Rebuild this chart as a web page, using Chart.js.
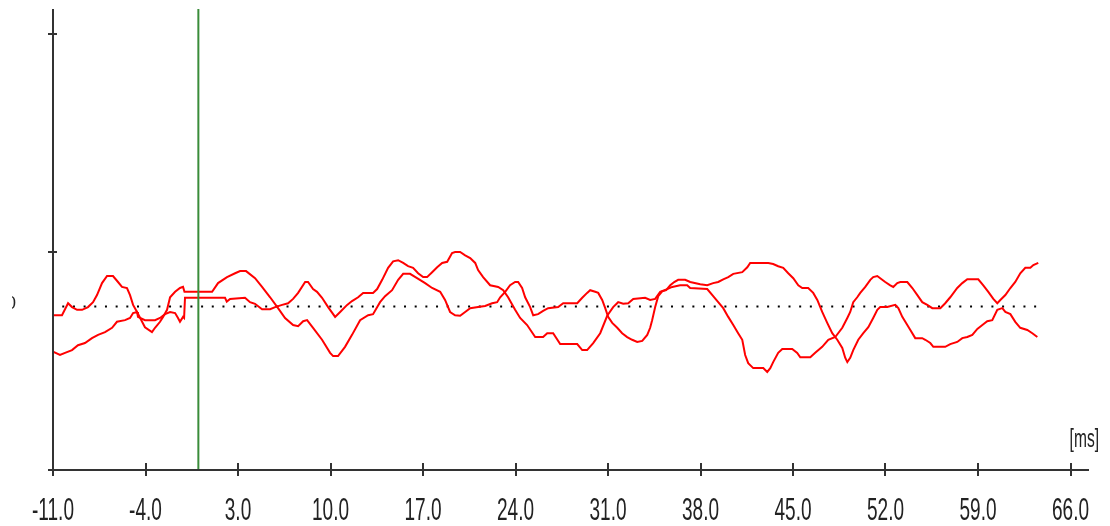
<!DOCTYPE html>
<html>
<head>
<meta charset="utf-8">
<script src="https://cdn.jsdelivr.net/npm/chart.js@4/dist/chart.umd.min.js"></script>
<style>
  html, body { margin: 0; padding: 0; background: #fff; }
  canvas { display: block; }
</style>
</head>
<body>
<canvas id="scope" width="1110" height="526"></canvas>
<script>
// Trace A: time (ms) and amplitude
const timeA = [-11.00, -10.32, -9.86, -9.56, -9.18, -8.80, -8.35, -7.97, -7.67, -7.29,
  -6.91, -6.46, -6.08, -5.78, -5.40, -5.17, -4.94, -4.64, -4.04, -3.51,
  -3.28, -2.90, -2.67, -2.37, -2.14, -1.76, -1.39, -1.16, -1.05, 1.04,
  1.49, 2.17, 2.78, 3.16, 3.61,
  4.29, 4.82, 5.43, 6.03, 6.56, 7.17, 7.55, 7.93, 8.23, 8.68,
  9.36, 9.97, 10.20, 10.57, 11.10, 11.63, 12.24, 12.85, 13.22, 13.75,
  14.13, 14.66, 15.12, 15.50, 16.02, 16.55, 17.16, 17.69, 18.30, 18.67,
  19.05, 19.43, 19.81, 20.19, 20.57, 21.17, 21.70, 22.23, 22.61, 22.84,
  23.22, 23.59, 23.97, 24.20, 24.50, 24.73, 25.11, 25.34, 25.71, 26.09,
  26.47, 27.23, 27.61, 28.67, 29.05, 29.42, 29.65, 30.03, 30.26, 30.56,
  30.79, 31.01, 31.32, 31.70, 32.07, 32.45, 32.83, 33.21, 33.59, 33.97,
  34.19,
  34.34, 34.57, 34.80, 35.10, 35.40, 35.71, 36.01, 36.31, 36.84, 37.22,
  37.98, 38.51,
  38.96, 39.34, 39.72, 40.10, 40.48, 41.16, 41.54, 41.76, 43.13, 43.50,
  43.88, 44.26, 44.64, 45.02, 45.40, 45.70, 46.15, 46.53, 46.84, 47.21,
  47.59, 47.97, 48.35, 48.73, 48.95, 49.11, 49.33,
  49.56, 49.94, 50.32, 50.70, 51.07, 51.38, 51.60, 52.13, 52.74, 52.97,
  53.27, 53.50, 53.88, 54.25, 54.78, 55.01, 55.39, 55.62, 56.52, 56.90,
  57.43, 57.81, 58.19, 58.57, 58.95, 59.33, 59.70, 60.08, 60.46, 60.84,
  61.07, 61.45, 61.82, 62.20, 62.73, 63.11, 63.49];
const ampA = [-0.16, -0.16, 0.06, -0.01, -0.06, -0.06, -0.01, 0.08, 0.21, 0.43,
  0.56, 0.56, 0.45, 0.36, 0.34, 0.21, 0.03, -0.10, -0.38, -0.47,
  -0.39, -0.28, -0.19, -0.06, 0.17, 0.27, 0.34, 0.36, 0.27, 0.27,
  0.43, 0.54, 0.61, 0.65, 0.65,
  0.52, 0.36, 0.17, -0.03, -0.21, -0.34, -0.36, -0.27, -0.25, -0.39,
  -0.61, -0.85, -0.91, -0.91, -0.74, -0.52, -0.25, -0.16, -0.14, 0.08,
  0.19, 0.30, 0.49, 0.60, 0.60, 0.52, 0.43, 0.34, 0.27, 0.12,
  -0.10, -0.16, -0.17, -0.10, -0.03, -0.01, 0.01, 0.06, 0.08, 0.17,
  0.27, 0.39, 0.45, 0.45, 0.34, 0.17, -0.01, -0.16, -0.14, -0.08,
  -0.03, -0.01, 0.06, 0.06, 0.16, 0.25, 0.30, 0.27, 0.25, 0.12,
  -0.03, -0.19, -0.30, -0.39, -0.49, -0.56, -0.61, -0.65, -0.63, -0.52,
  -0.39,
  -0.25, -0.01, 0.19, 0.28, 0.30, 0.39, 0.45, 0.49, 0.49, 0.45,
  0.41, 0.39,
  0.43, 0.45, 0.50, 0.54, 0.60, 0.63, 0.72, 0.80, 0.80, 0.78,
  0.74, 0.71, 0.61, 0.52, 0.39, 0.34, 0.34, 0.25, 0.12, -0.10,
  -0.30, -0.49, -0.61, -0.76, -0.94, -1.02, -0.94,
  -0.80, -0.61, -0.49, -0.38, -0.21, -0.06, -0.01, -0.01, 0.03, -0.03,
  -0.19, -0.28, -0.43, -0.58, -0.58, -0.61, -0.67, -0.74, -0.74, -0.69,
  -0.65, -0.58, -0.56, -0.52, -0.41, -0.34, -0.27, -0.25, -0.06, -0.03,
  -0.10, -0.14, -0.28, -0.39, -0.43, -0.49, -0.56];

// Trace B: time (ms) and amplitude
const timeB = [-11.00, -10.47, -10.09, -9.56, -9.11, -8.58, -8.05, -7.59, -7.06, -6.53,
  -6.16, -5.55, -5.17, -4.94, -4.64, -4.57, -4.04, -3.28, -2.90, -2.52,
  -2.14, -1.76, -1.54, -1.39, -1.16, -1.08, -1.01, 2.02, 2.15, 2.40,
  3.53,
  3.91, 4.29, 4.82, 5.43, 5.81, 6.34, 6.79, 7.17, 7.55, 8.08,
  8.30, 8.68, 8.98, 9.36, 9.82, 10.35, 10.73, 11.26, 11.63, 12.09,
  12.47, 13.22, 13.53, 13.91, 14.36, 14.74, 15.12, 15.50, 15.87, 16.25,
  16.63, 17.01, 17.31, 17.69, 18.07, 18.45, 18.83,
  19.20, 19.43, 19.81, 20.19, 20.57, 20.95, 21.17, 21.55, 22.08, 22.69,
  23.07, 23.44, 23.97, 24.35, 24.88, 25.49, 26.09, 26.40, 26.85, 27.38,
  28.67, 29.05, 29.42, 29.88, 30.41, 30.94, 31.39, 31.77, 32.15, 32.53,
  32.91, 33.81, 34.19, 34.57, 34.95, 35.48, 35.86, 36.46, 36.99, 37.22,
  38.51,
  38.96, 39.34, 39.72, 40.10, 40.48, 40.85, 41.16, 41.38, 41.61, 41.99,
  42.75, 43.05, 43.28, 43.50, 43.88, 44.19, 44.94, 45.32, 45.55, 46.31,
  46.68, 47.21, 47.67, 48.20, 48.73, 49.11, 49.33, 49.56, 49.86, 50.09,
  50.47, 50.85, 51.07, 51.38, 51.60, 51.98, 52.36, 52.59, 52.89, 53.12,
  53.65, 54.03, 54.41, 54.78, 55.16, 55.54, 56.15, 56.52, 56.90, 57.43,
  57.81, 58.19, 59.02, 59.40, 59.78, 60.16, 60.46, 60.69, 61.07, 61.45,
  61.82, 62.20, 62.58, 62.96, 63.19, 63.56];
const ampB = [-0.83, -0.89, -0.85, -0.80, -0.71, -0.67, -0.58, -0.52, -0.47, -0.39,
  -0.28, -0.25, -0.21, -0.12, -0.10, -0.19, -0.25, -0.25, -0.21, -0.14,
  -0.10, -0.12, -0.21, -0.28, -0.19, -0.21, 0.16, 0.16, 0.09, 0.14,
  0.16,
  0.08, 0.05, -0.05, -0.05, -0.01, 0.03, 0.06, 0.14, 0.25, 0.45,
  0.45, 0.32, 0.27, 0.16, -0.01, -0.19, -0.10, 0.03, 0.10, 0.17,
  0.25, 0.25, 0.32, 0.49, 0.71, 0.83, 0.85, 0.80, 0.74, 0.71,
  0.61, 0.54, 0.54, 0.63, 0.72, 0.80, 0.82,
  0.98, 1.00, 1.00, 0.94, 0.89, 0.80, 0.67, 0.54, 0.39, 0.36,
  0.30, 0.17, -0.06, -0.21, -0.34, -0.56, -0.56, -0.49, -0.49, -0.69,
  -0.69, -0.80, -0.80, -0.67, -0.49, -0.17, -0.01, 0.08, 0.05, 0.06,
  0.14, 0.16, 0.12, 0.14, 0.27, 0.32, 0.36, 0.39, 0.39, 0.34,
  0.32,
  0.19, 0.08, -0.03, -0.19, -0.34, -0.49, -0.61, -0.89, -1.04, -1.13,
  -1.13, -1.20, -1.13, -1.02, -0.85, -0.78, -0.78, -0.85, -0.93, -0.93,
  -0.85, -0.74, -0.61, -0.56, -0.39, -0.21, -0.10, 0.08, 0.17, 0.25,
  0.36, 0.49, 0.54, 0.56, 0.52, 0.45, 0.39, 0.36, 0.43, 0.45,
  0.45, 0.34, 0.21, 0.08, 0.03, -0.03, -0.03, 0.06, 0.17, 0.34,
  0.43, 0.50, 0.50, 0.39, 0.27, 0.14, 0.06, 0.12, 0.21, 0.34,
  0.45, 0.61, 0.71, 0.71, 0.76, 0.80];

// Axis ticks, stimulus marker and dotted baseline extent
const xTicks = [-11, -4, 3, 10, 17, 24, 31, 38, 45, 52, 59, 66];
const yTicks = [-3, 1, 5];
const yLabelValues = [0];
const markerTime = 0;
const baselineStart = -10.30;
const baselineEnd = 63.5;
const xUnitLabel = '[ms]';

const xRange = [-11, 67.4];
const yRange = [-3, 5.46];

const pairs = (xs, ys) => xs.map((x, i) => ({ x: x, y: ys[i] }));

// Axis lines, cross ticks and stretched labels in the scope style
const scopeAxes = {
  id: 'scopeAxes',
  afterDatasetsDraw(chart) {
    const { ctx, chartArea: a, scales: { x, y } } = chart;
    ctx.save();
    ctx.strokeStyle = '#333';
    ctx.lineWidth = 2;
    ctx.beginPath();
    ctx.moveTo(a.left, a.top);
    ctx.lineTo(a.left, a.bottom);
    ctx.moveTo(a.left - 5, a.bottom);
    ctx.lineTo(a.right, a.bottom);
    yTicks.forEach(v => {
      const py = Math.round(y.getPixelForValue(v));
      ctx.moveTo(a.left - 5, py);
      ctx.lineTo(a.left + 4, py);
    });
    xTicks.forEach(v => {
      const px = Math.round(x.getPixelForValue(v));
      ctx.moveTo(px, a.bottom - 7);
      ctx.lineTo(px, a.bottom + 6);
    });
    ctx.stroke();

    ctx.fillStyle = '#222';
    ctx.font = '22px "Liberation Sans", Arial, sans-serif';
    ctx.textAlign = 'center';
    ctx.textBaseline = 'alphabetic';
    xTicks.forEach(v => {
      const px = x.getPixelForValue(v);
      ctx.save();
      ctx.translate(px, 520);
      ctx.scale(0.865, 1.46);
      ctx.fillText(v.toFixed(1), 0, 0);
      ctx.restore();
    });

    // unit label at the right end of the time axis
    ctx.save();
    ctx.font = '18px "Liberation Sans", Arial, sans-serif';
    ctx.textAlign = 'right';
    ctx.translate(1099, 447);
    ctx.scale(0.865, 1.46);
    ctx.fillText(xUnitLabel, 0, 0);
    ctx.restore();

    // amplitude label, cut by the left margin
    ctx.save();
    ctx.beginPath();
    ctx.rect(12, 0, 40, chart.height);
    ctx.clip();
    ctx.font = '18px "Liberation Sans", Arial, sans-serif';
    ctx.textAlign = 'right';
    yLabelValues.forEach(v => {
      ctx.fillText(String(v), 16, y.getPixelForValue(v) + 2);
    });
    ctx.restore();

    ctx.restore();
  }
};

new Chart(document.getElementById('scope'), {
  type: 'line',
  data: {
    datasets: [
      {
        data: [{ x: markerTime, y: yRange[0] }, { x: markerTime, y: yRange[1] }],
        borderColor: '#3a8c3a',
        borderWidth: 2
      },
      {
        data: pairs(timeA, ampA),
        borderColor: '#ff0000',
        borderWidth: 2
      },
      {
        data: pairs(timeB, ampB),
        borderColor: '#ff0000',
        borderWidth: 2
      },
      {
        data: [{ x: baselineStart, y: 0 }, { x: baselineEnd, y: 0 }],
        borderColor: '#000',
        borderWidth: 2,
        borderDash: [2, 8.68]
      }
    ]
  },
  options: {
    responsive: false,
    animation: false,
    devicePixelRatio: 1,
    layout: { padding: { left: 53, right: 21, top: 9, bottom: 56 } },
    elements: { point: { radius: 0 }, line: { tension: 0, fill: false } },
    plugins: { legend: { display: false }, tooltip: { enabled: false } },
    scales: {
      x: { type: 'linear', display: false, min: xRange[0], max: xRange[1] },
      y: { type: 'linear', display: false, min: yRange[0], max: yRange[1] }
    }
  },
  plugins: [scopeAxes]
});
</script>
</body>
</html>
